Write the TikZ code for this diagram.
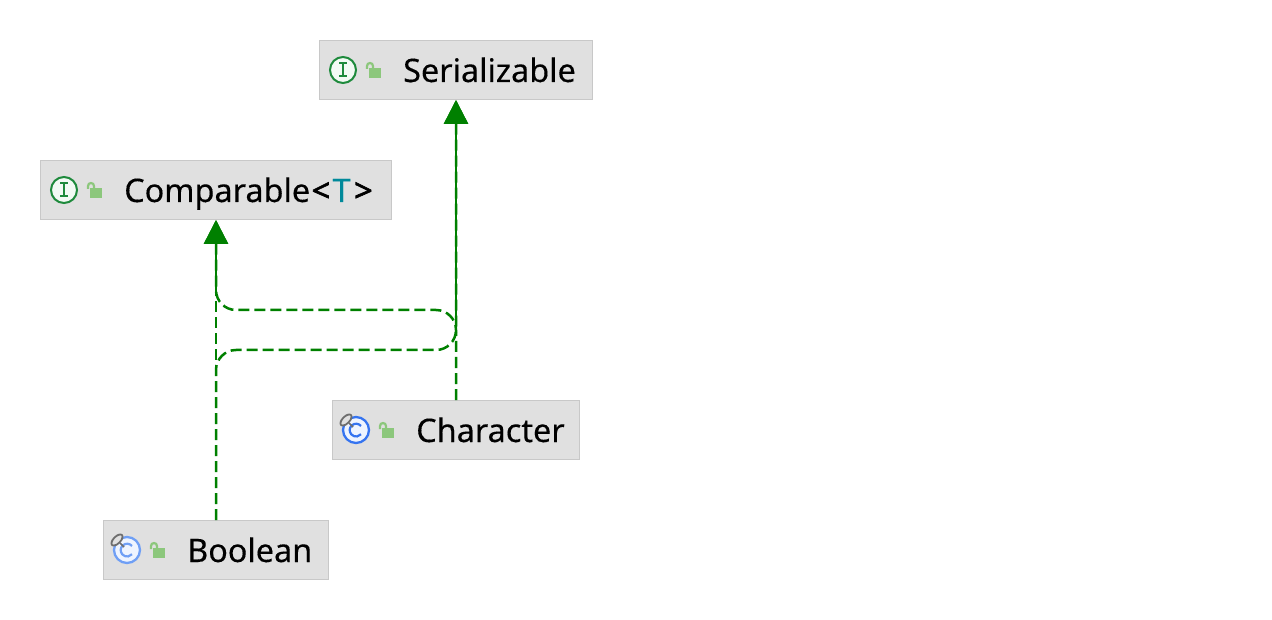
\documentclass[tikz,border=0pt]{standalone}
\usepackage{fontspec}
\setmainfont{Noto Sans}[FakeBold=0.25]
\newfontface\heavyfont{Noto Sans}[FakeBold=2]
\usetikzlibrary{arrows.meta}
\definecolor{boxfill}{HTML}{E0E0E0}
\definecolor{boxline}{HTML}{C8C8C8}
\definecolor{edgegreen}{HTML}{008000}
\definecolor{ifacegreen}{HTML}{1E8A3C}
\definecolor{iconfill}{HTML}{F2FAF4}
\definecolor{lockgreen}{HTML}{8CC77C}
\definecolor{classblue}{HTML}{3574F0}
\definecolor{paleblue}{HTML}{6F9FF5}
\definecolor{classfill}{HTML}{EEF4FF}
\definecolor{badgegray}{HTML}{6E6E6E}
\definecolor{typeteal}{HTML}{00899A}
\tikzset{
    typebox/.style={draw=boxline,fill=boxfill,line width=1pt,inner sep=0pt,minimum height=59pt},
    typename/.style={anchor=base west,inner sep=0pt,font=\fontsize{32.4}{36}\selectfont},
    realizes/.style={draw=edgegreen,line width=2.5pt,dash pattern=on 11pt off 5pt,rounded corners=20pt,-{Triangle[length=24pt,width=24pt]}},
    lockicon/.pic={
        \fill[lockgreen] (-5,-2) rectangle (7,8);
        \draw[lockgreen,line width=2.2pt] (-7,-1) -- (-7,-4) arc (180:360:3) -- (-1,-2);
    },
    ifaceicon/.pic={
        \draw[ifacegreen,fill=iconfill,line width=2pt] (0,0) circle (13);
        \draw[ifacegreen,line width=2pt] (-4,-6.5) -- (4,-6.5) (-4,6.5) -- (4,6.5) (0,-6.5) -- (0,6.5);
    },
    classicon/.pic={
        \draw[#1,fill=classfill,line width=2.3pt] (0,0) circle (13);
        \draw[#1,line width=2.2pt] (5,-4) arc (-40:-320:6.4);
        \draw[badgegray,line width=1.5pt] (-7,-7) -- (-3,-3);
        \draw[badgegray,fill=boxfill,line width=1.8pt,rotate around={45:(-10,-10)}] (-10,-10) ellipse (7 and 3.5);
    }
}
\begin{document}
\begin{tikzpicture}[x=1pt,y=-1pt]
\useasboundingbox (0,0) rectangle (1272,620);

% boxes
\node[typebox,minimum width=273pt] (serializable) at (456,70) {};
\node[typebox,minimum width=351pt] (comparable) at (216,190) {};
\node[typebox,minimum width=247pt] (character) at (456,430) {};
\node[typebox,minimum width=225pt] (boolean) at (216,550) {};

% names
\node[typename] (serializablename) at (403,82) {Serializable};
\node[typename] (comparablename) at (124,202) {Comparable\hspace{1.5pt}{\heavyfont <}\hspace{2.5pt}\textcolor{typeteal}{T}\hspace{3.5pt}{\heavyfont >}};
\node[typename] (charactername) at (416,442) {Character};
\node[typename] (booleanname) at (187,562) {Boolean};

% icons
\pic at (343,70) {ifaceicon};
\pic at (374,70) {lockicon};
\pic at (64,190) {ifaceicon};
\pic at (95,190) {lockicon};
\pic at (356,430) {classicon=classblue};
\pic at (387,430) {lockicon};
\pic at (127,550) {classicon=paleblue};
\pic at (158,550) {lockicon};

% edges
\coordinate (upperleft) at (216,310);
\coordinate (upperright) at (456,310);
\coordinate (lowerleft) at (216,350);
\coordinate (lowerright) at (456,350);

\draw[realizes] (boolean.north) -- (comparable.south);
\draw[realizes] (character.north) -- (serializable.south);
\draw[realizes] (character.north) -- (upperright) -- (upperleft) -- (comparable.south);
\draw[realizes] (boolean.north) -- (lowerleft) -- (lowerright) -- (serializable.south);

\end{tikzpicture}
\end{document}
